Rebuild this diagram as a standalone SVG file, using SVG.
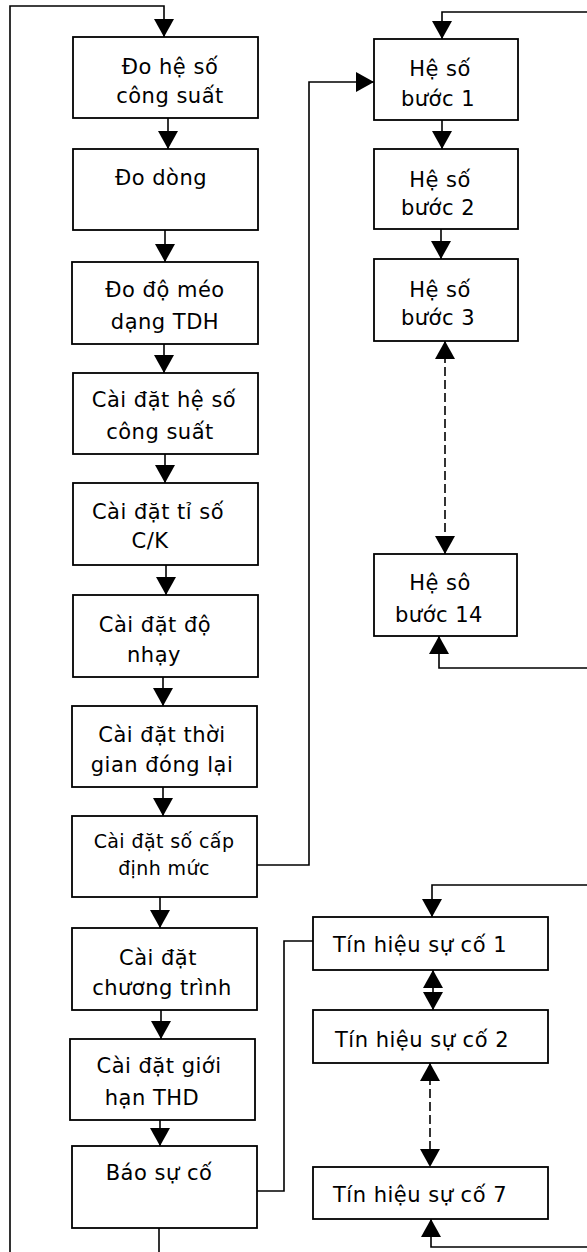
<svg xmlns="http://www.w3.org/2000/svg" width="587" height="1252" viewBox="0 0 587 1252">
<style>
  .box { fill: #ffffff; stroke: #000000; stroke-width: 1.8; }
  .t { font-family: "DejaVu Sans", "Liberation Sans", sans-serif; font-size: 21px; letter-spacing: 0.5px; fill: #000000; text-anchor: middle; }
  .ts { font-size: 19px; letter-spacing: 0.4px; }
  .tl { text-anchor: start; }
  .c { fill: none; stroke: #000000; stroke-width: 1.6; }
  .d { stroke-dasharray: 9 4; }
</style>
<defs>
  <marker id="ah" viewBox="0 0 18 20" refX="18" refY="10" markerWidth="18" markerHeight="20" markerUnits="userSpaceOnUse" orient="auto-start-reverse">
    <path d="M0,0 L18,10 L0,20 z" fill="#000000"/>
  </marker>
</defs>
<rect width="587" height="1252" fill="#ffffff"/>
<g id="connectors">
  <path class="c" d="M10,1252 V6 H164 V37" marker-end="url(#ah)"/>
  <path class="c" d="M159,1228 V1252"/>
  <path class="c" d="M168,118 V149" marker-end="url(#ah)"/>
  <path class="c" d="M165,230 V262" marker-end="url(#ah)"/>
  <path class="c" d="M164,344 V373" marker-end="url(#ah)"/>
  <path class="c" d="M165,454 V483" marker-end="url(#ah)"/>
  <path class="c" d="M166,565 V595" marker-end="url(#ah)"/>
  <path class="c" d="M163,677 V706" marker-end="url(#ah)"/>
  <path class="c" d="M163,787 V816" marker-end="url(#ah)"/>
  <path class="c" d="M160,897 V928" marker-end="url(#ah)"/>
  <path class="c" d="M161,1010 V1039" marker-end="url(#ah)"/>
  <path class="c" d="M160,1120 V1146" marker-end="url(#ah)"/>
  <path class="c" d="M257,865 H309 V82 H374" marker-end="url(#ah)"/>
  <path class="c" d="M442,120 V149" marker-end="url(#ah)"/>
  <path class="c" d="M441,229 V259" marker-end="url(#ah)"/>
  <path class="c d" d="M445,341 V554" marker-start="url(#ah)" marker-end="url(#ah)"/>
  <path class="c" d="M587,12 H442 V39" marker-end="url(#ah)"/>
  <path class="c" d="M587,668 H439 V636" marker-end="url(#ah)"/>
  <path class="c" d="M255,1191 H284 V941 H313"/>
  <path class="c" d="M587,885 H432 V917" marker-end="url(#ah)"/>
  <path class="c" d="M433,970 V1010" marker-start="url(#ah)" marker-end="url(#ah)"/>
  <path class="c d" d="M430,1063 V1167" marker-start="url(#ah)" marker-end="url(#ah)"/>
  <path class="c" d="M587,1247 H431 V1219" marker-end="url(#ah)"/>
</g>
<g id="n1"><rect class="box" x="73" y="37" width="185" height="81"/><text class="t" x="170" y="74">Đo hệ số</text><text class="t" x="170" y="103">công suất</text></g>
<g id="n2"><rect class="box" x="73" y="149" width="185" height="81"/><text class="t" x="161" y="185">Đo dòng</text></g>
<g id="n3"><rect class="box" x="72" y="262" width="186" height="82"/><text class="t" x="165" y="297">Đo độ méo</text><text class="t" x="165" y="329">dạng TDH</text></g>
<g id="n4"><rect class="box" x="73" y="373" width="185" height="81"/><text class="t" x="164" y="407">Cài đặt hệ số</text><text class="t" x="160" y="439">công suất</text></g>
<g id="n5"><rect class="box" x="73" y="483" width="185" height="82"/><text class="t" x="158" y="519">Cài đặt tỉ số</text><text class="t" x="150" y="548">C/K</text></g>
<g id="n6"><rect class="box" x="73" y="595" width="185" height="82"/><text class="t" x="155" y="632">Cài đặt độ</text><text class="t" x="154" y="662">nhạy</text></g>
<g id="n7"><rect class="box" x="72" y="706" width="185" height="81"/><text class="t" x="162" y="742">Cài đặt thời</text><text class="t" x="162" y="772">gian đóng lại</text></g>
<g id="n8"><rect class="box" x="72" y="816" width="185" height="81"/><text class="t ts" x="164" y="848">Cài đặt số cấp</text><text class="t ts" x="164" y="875">định mức</text></g>
<g id="n9"><rect class="box" x="72" y="928" width="185" height="82"/><text class="t" x="158" y="965">Cài đặt</text><text class="t" x="162" y="995">chương trình</text></g>
<g id="n10"><rect class="box" x="70" y="1039" width="185" height="81"/><text class="t" x="159" y="1073">Cài đặt giới</text><text class="t" x="152" y="1105">hạn THD</text></g>
<g id="n11"><rect class="box" x="72" y="1146" width="185" height="82"/><text class="t" x="159" y="1180">Báo sự cố</text></g>
<g id="r1"><rect class="box" x="374" y="39" width="144" height="81"/><text class="t" x="440" y="76">Hệ số</text><text class="t" x="438" y="106">bước 1</text></g>
<g id="r2"><rect class="box" x="374" y="149" width="144" height="80"/><text class="t" x="440" y="187">Hệ số</text><text class="t" x="438" y="215">bước 2</text></g>
<g id="r3"><rect class="box" x="374" y="259" width="144" height="82"/><text class="t" x="440" y="297">Hệ số</text><text class="t" x="438" y="325">bước 3</text></g>
<g id="r14"><rect class="box" x="374" y="554" width="143" height="82"/><text class="t" x="440" y="590">Hệ sô</text><text class="t" x="439" y="622">bước 14</text></g>
<g id="th1"><rect class="box" x="313" y="917" width="235" height="53"/><text class="t tl" x="333" y="952">Tín hiệu sự cố 1</text></g>
<g id="th2"><rect class="box" x="313" y="1010" width="235" height="53"/><text class="t tl" x="335" y="1047">Tín hiệu sự cố 2</text></g>
<g id="th7"><rect class="box" x="313" y="1167" width="235" height="52"/><text class="t tl" x="333" y="1202">Tín hiệu sự cố 7</text></g>
</svg>
